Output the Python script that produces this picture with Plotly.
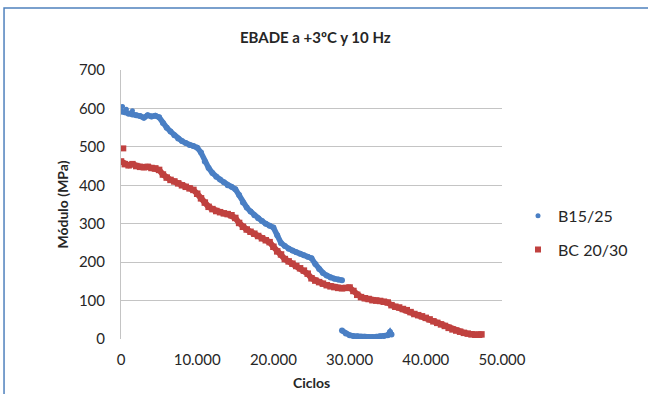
import plotly.graph_objects as go

# Ciclos vs módulo (MPa) for the two binders
b1525_x = [0, 500, 1000, 1500, 2000, 2500, 3000, 3500, 4000, 4500, 5000, 5500, 6000, 6500,
           7000, 7500, 8000, 8500, 9000, 9500, 10000, 10500, 11000, 11500, 12000, 12500,
           13000, 13500, 14000, 14500, 15000, 15500, 16000, 16500, 17000, 17500, 18000,
           18500, 19000, 19500, 20000, 20500, 21000, 21500, 22000, 22500, 23000, 23500,
           24000, 24500, 25000, 25500, 26000, 26500, 27000, 27500, 28000, 28500, 29000]
b1525_y = [592, 590, 586, 584, 582, 580, 576, 582, 579, 581, 577, 562, 550, 540,
           530, 522, 515, 510, 505, 502, 498, 485, 462, 445, 432, 422,
           415, 408, 400, 396, 390, 375, 355, 342, 332, 322, 314,
           307, 300, 295, 290, 270, 250, 242, 235, 230, 226, 222,
           218, 214, 210, 195, 182, 172, 165, 160, 157, 155, 153]
# late readings after the drop
b1525_tail_x = [29000, 29500, 30000, 30500, 31000, 31500, 32000, 32500, 33000, 33500,
                34000, 34500, 35000, 35300, 35500]
b1525_tail_y = [22, 14, 10, 8, 7, 6, 6, 5, 5, 6, 7, 8, 10, 18, 12]
# isolated readings
b1525_spot_x = [200, 700, 1500]
b1525_spot_y = [605, 598, 594]

bc2030_x = [0, 500, 1000, 1500, 2000, 2500, 3000, 3500, 4000, 4500, 5000, 5500, 6000, 6500,
            7000, 7500, 8000, 8500, 9000, 9500, 10000, 10500, 11000, 11500, 12000, 12500,
            13000, 13500, 14000, 14500, 15000, 15500, 16000, 16500, 17000, 17500, 18000,
            18500, 19000, 19500, 20000, 20500, 21000, 21500, 22000, 22500, 23000, 23500,
            24000, 24500, 25000, 25500, 26000, 26500, 27000, 27500, 28000, 28500, 29000,
            29500, 30000, 30500, 31000, 31500, 32000, 32500, 33000, 33500, 34000, 34500,
            35000, 35500, 36000, 36500, 37000, 37500, 38000, 38500, 39000, 39500, 40000,
            40500, 41000, 41500, 42000, 42500, 43000, 43500, 44000, 44500, 45000, 45500,
            46000, 46500, 47000, 47300]
bc2030_y = [462, 455, 452, 455, 450, 448, 447, 448, 445, 444, 440, 428, 420, 414,
            410, 405, 400, 396, 392, 388, 378, 366, 355, 344, 338, 333,
            330, 327, 325, 322, 315, 302, 292, 285, 279, 274, 268,
            262, 257, 252, 240, 228, 220, 208, 202, 196, 190, 184,
            178, 170, 158, 152, 148, 144, 140, 137, 135, 133, 132,
            133, 134, 125, 115, 109, 106, 104, 101, 100, 99, 97,
            95, 88, 84, 82, 78, 75, 70, 65, 62, 59, 55,
            51, 46, 42, 38, 34, 29, 25, 22, 19, 16, 14,
            12, 11, 11, 12]
bc2030_spot_x = [300]
bc2030_spot_y = [496]

x_ticks = [0, 10000, 20000, 30000, 40000, 50000]
y_ticks = [0, 100, 200, 300, 400, 500, 600, 700]

BLUE = "#4a7fc4"
RED = "#c0413f"
FONT = "Lato"

fig = go.Figure()

# B15/25: band of readings, gap before the late segment
fig.add_trace(go.Scatter(
    x=b1525_x + [None] + b1525_tail_x,
    y=b1525_y + [None] + b1525_tail_y,
    mode="lines+markers", connectgaps=False,
    line=dict(color=BLUE, width=5.5),
    marker=dict(color=BLUE, size=6, symbol="circle"),
    legendgroup="b", showlegend=False, name="B15/25"))
fig.add_trace(go.Scatter(
    x=b1525_spot_x, y=b1525_spot_y, mode="markers",
    marker=dict(color=BLUE, size=5, symbol="circle"),
    legendgroup="b", showlegend=True, name="B15/25"))

# BC 20/30
fig.add_trace(go.Scatter(
    x=bc2030_x, y=bc2030_y, mode="lines+markers",
    line=dict(color=RED, width=6),
    marker=dict(color=RED, size=6.5, symbol="square"),
    legendgroup="r", showlegend=False, name="BC 20/30"))
fig.add_trace(go.Scatter(
    x=bc2030_spot_x, y=bc2030_spot_y, mode="markers",
    marker=dict(color=RED, size=6, symbol="square"),
    legendgroup="r", showlegend=True, name="BC 20/30"))

fig.update_layout(
    width=648, height=394,
    margin=dict(l=121, r=146, t=70, b=55),
    paper_bgcolor="white", plot_bgcolor="white",
    separators=",.",
    font=dict(family=FONT, size=15, color="#262626"),
    title=dict(text="<b>EBADE a +3ºC y 10 Hz</b>", x=0.51, xref="paper",
               xanchor="center", y=1 - 38 / 394, yanchor="middle",
               font=dict(family=FONT, size=15, color="#262626")),
    legend=dict(x=1.042, y=0.395, xanchor="left", yanchor="middle",
                font=dict(family=FONT, size=16, color="#262626"),
                traceorder="grouped", tracegroupgap=10,
                bgcolor="rgba(0,0,0,0)", itemwidth=30),
    showlegend=True,
)

fig.update_xaxes(
    range=[0, 50000], tickvals=x_ticks, tickformat=",d",
    showgrid=False, zeroline=False, showline=False, automargin=False,
    ticks="", ticklabelstandoff=10,
    title=dict(text="<b>Ciclos</b>", font=dict(family=FONT, size=14), standoff=11),
)
fig.update_yaxes(
    range=[0, 700], tickvals=y_ticks, automargin=False,
    showgrid=True, gridcolor="#c4c4c4", gridwidth=1,
    zeroline=False, showline=True, linecolor="#c4c4c4", linewidth=1,
    ticks="", ticklabelstandoff=12,
    title=dict(text="<b>Módulo (MPa)</b>", font=dict(family=FONT, size=14), standoff=6),
)

# outer frame of the figure panel
fig.add_shape(type="rect", xref="paper", yref="paper",
              x0=-0.307, x1=1.45, y0=-0.3, y1=1.2305,
              line=dict(color="#4f81bd", width=1.5), fillcolor="rgba(0,0,0,0)", layer="below")

fig.write_html("out.html")
